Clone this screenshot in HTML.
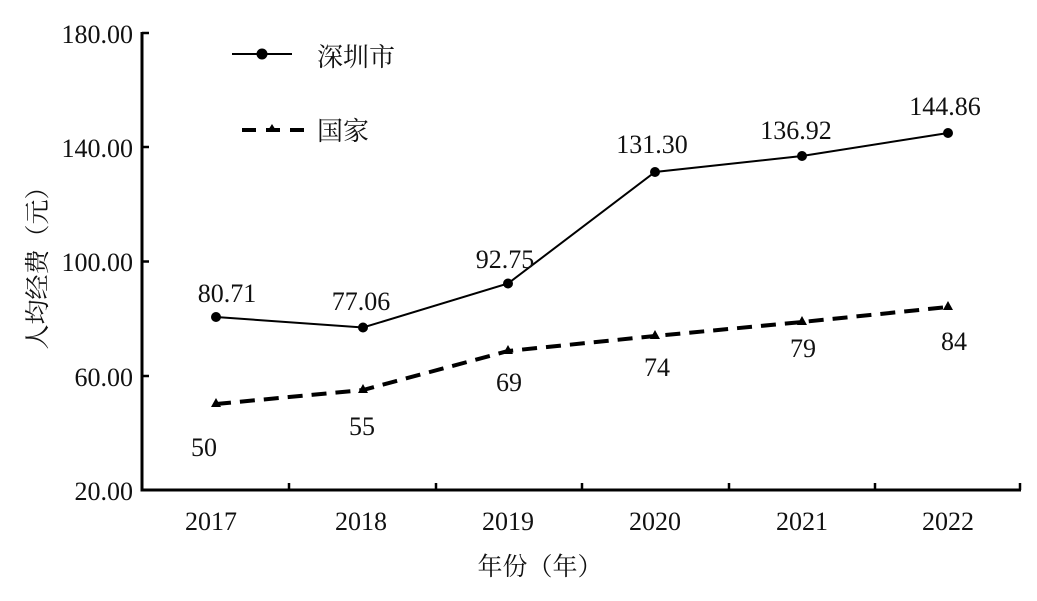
<!DOCTYPE html>
<html><head><meta charset="utf-8"><style>
body{margin:0;background:#fff;}
svg text{font-family:"Liberation Serif","Noto Serif CJK SC",serif;fill:#111;}
</style></head><body>
<svg width="1037" height="596" viewBox="0 0 1037 596" xmlns="http://www.w3.org/2000/svg">
<g stroke="#000" stroke-width="3" fill="none">
<line x1="142" y1="32" x2="142" y2="491.5"/>
<line x1="140.5" y1="490" x2="1021" y2="490"/>
</g>
<g stroke="#000" stroke-width="2.5">
<line x1="142" y1="33" x2="149" y2="33"/>
<line x1="142" y1="147" x2="149" y2="147"/>
<line x1="142" y1="261.5" x2="149" y2="261.5"/>
<line x1="142" y1="376" x2="149" y2="376"/>
<line x1="289" y1="490" x2="289" y2="483"/>
<line x1="436" y1="490" x2="436" y2="483"/>
<line x1="582" y1="490" x2="582" y2="483"/>
<line x1="729" y1="490" x2="729" y2="483"/>
<line x1="875" y1="490" x2="875" y2="483"/>
<line x1="1020" y1="490" x2="1020" y2="483"/>
</g>
<g font-size="26" text-anchor="end">
<text x="133" y="43">180.00</text>
<text x="133" y="157">140.00</text>
<text x="133" y="271">100.00</text>
<text x="133" y="386">60.00</text>
<text x="133" y="500">20.00</text>
</g>
<g font-size="26" text-anchor="middle">
<text x="211" y="530">2017</text>
<text x="361" y="530">2018</text>
<text x="508" y="530">2019</text>
<text x="655" y="530">2020</text>
<text x="802" y="530">2021</text>
<text x="948" y="530">2022</text>
<text x="540" y="575" font-size="25">年份（年）</text>
</g>
<text transform="translate(46,262) rotate(-90)" font-size="25" text-anchor="middle">人均经费（元）</text>
<!-- Shenzhen -->
<polyline points="216,317 363,327.5 508,283.5 655,172 802,156 948,133" fill="none" stroke="#000" stroke-width="2"/>
<g fill="#000">
<circle cx="216" cy="317" r="5"/><circle cx="363" cy="327.5" r="5"/><circle cx="508" cy="283.5" r="5"/>
<circle cx="655" cy="172" r="5"/><circle cx="802" cy="156" r="5"/><circle cx="948" cy="133" r="5"/>
</g>
<!-- National -->
<polyline points="216,404 363,390 508,351 655,336 802,322 948,307" fill="none" stroke="#000" stroke-width="4" stroke-dasharray="15,9"/>
<g fill="#000">
<polygon points="216,398 221,407 211,407"/><polygon points="363,384 368,393 358,393"/>
<polygon points="508,345 513,354 503,354"/><polygon points="655,330 660,339 650,339"/>
<polygon points="802,316 807,325 797,325"/><polygon points="948,301 953,310 943,310"/>
</g>
<g font-size="26" text-anchor="middle">
<text x="227" y="302">80.71</text>
<text x="361" y="310">77.06</text>
<text x="505" y="268">92.75</text>
<text x="652" y="153">131.30</text>
<text x="796" y="139">136.92</text>
<text x="945" y="115">144.86</text>
<text x="204" y="456">50</text>
<text x="362" y="435">55</text>
<text x="509" y="391">69</text>
<text x="657" y="376">74</text>
<text x="803" y="357">79</text>
<text x="954" y="350">84</text>
</g>
<!-- legend -->
<line x1="232" y1="54" x2="292" y2="54" stroke="#000" stroke-width="2"/>
<circle cx="262" cy="54" r="5.5" fill="#000"/>
<text x="317" y="66" font-size="26">深圳市</text>
<g stroke="#000" stroke-width="4"><line x1="242" y1="130" x2="256" y2="130"/><line x1="266" y1="130" x2="280" y2="130"/><line x1="290" y1="130" x2="304" y2="130"/></g>
<polygon points="272,124 277,132 267,132" fill="#000"/>
<text x="317" y="140" font-size="26">国家</text>
</svg>
</body></html>
